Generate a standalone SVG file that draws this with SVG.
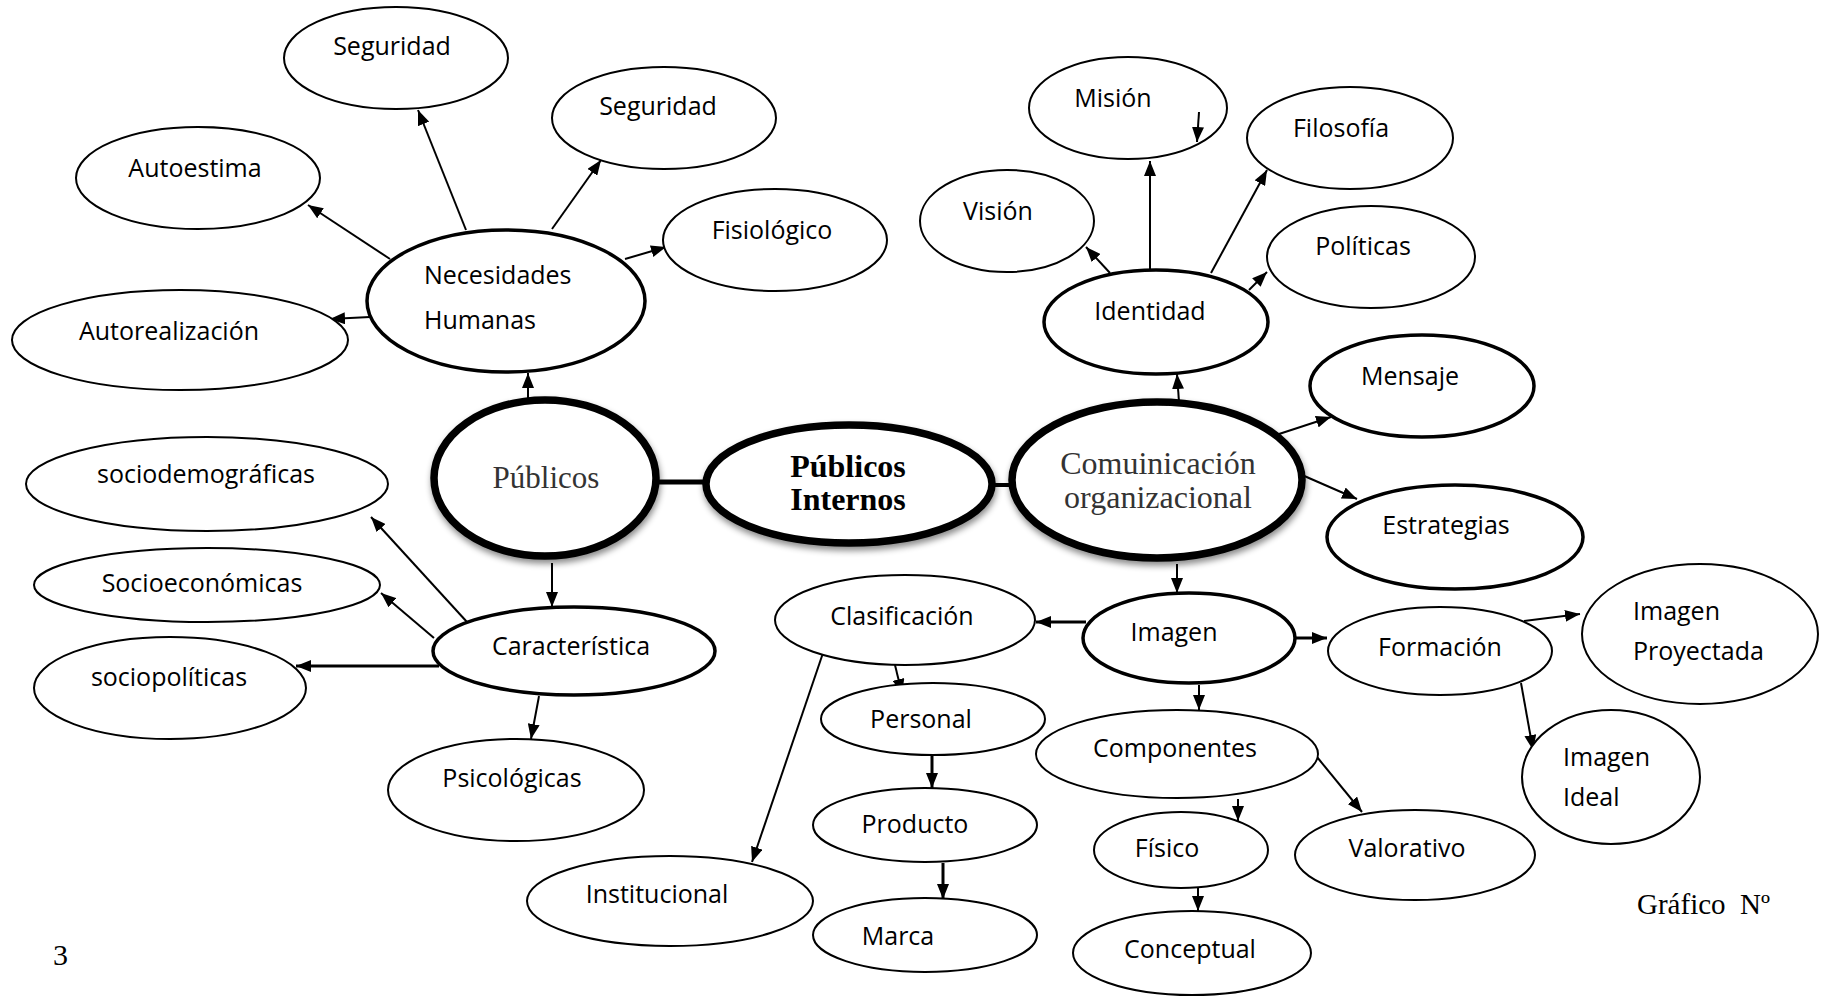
<svg xmlns="http://www.w3.org/2000/svg" width="1828" height="997" viewBox="0 0 1828 997">
<style>
.e{fill:#fff;stroke:#000;stroke-width:2}
.m{fill:#fff;stroke:#000;stroke-width:3.5}
.k{fill:#fff;stroke:#000;stroke-width:7.5;filter:url(#sh)}
.t{font-family:"Open Sans","Liberation Sans",sans-serif;font-size:25px;fill:#000}
.c{text-anchor:middle}
.s{font-family:"Liberation Serif","Times New Roman",serif;fill:#333}
.b{font-family:"Liberation Serif","Times New Roman",serif;font-weight:bold;font-size:32px;fill:#000;text-anchor:middle}
.l{stroke:#000;stroke-width:2;fill:none;marker-end:url(#ar)}
.w{stroke-width:3}
</style>
<defs>
<marker id="ar" markerUnits="userSpaceOnUse" markerWidth="15" markerHeight="12" refX="15" refY="6" orient="auto">
<path d="M0,0 L15,6 L0,12 z" fill="#000"/>
</marker>
<filter id="sh" x="-20%" y="-20%" width="140%" height="150%">
<feDropShadow dx="1" dy="4" stdDeviation="3" flood-color="#000" flood-opacity="0.45"/>
</filter>
</defs>
<rect width="1828" height="997" fill="#fff"/>
<g id="connectors">
<line class="l" x1="466" y1="230" x2="418" y2="110"/>
<line class="l" x1="552" y1="229" x2="601" y2="160"/>
<line class="l" x1="390" y1="259" x2="308" y2="205"/>
<line class="l" x1="625" y1="259" x2="666" y2="247"/>
<line class="l" x1="370" y1="317" x2="330" y2="319"/>
<line class="l" x1="528" y1="408" x2="528" y2="373"/>
<line x1="655" y1="482" x2="709" y2="482" stroke="#000" stroke-width="5"/>
<line x1="988" y1="485" x2="1015" y2="485" stroke="#000" stroke-width="4"/>
<line class="l" x1="552" y1="563" x2="552" y2="607"/>
<line class="l" x1="467" y1="622" x2="371" y2="517"/>
<line class="l" x1="434" y1="638" x2="381" y2="593"/>
<line class="l w" x1="439" y1="666" x2="296" y2="666"/>
<line class="l" x1="539" y1="696" x2="531" y2="739"/>
<line class="l" x1="1179" y1="402" x2="1177" y2="374"/>
<line class="l" x1="1110" y1="273" x2="1086" y2="247"/>
<line class="l" x1="1150" y1="271" x2="1150" y2="161"/>
<line class="l" x1="1211" y1="273" x2="1267" y2="170"/>
<line class="l" x1="1249" y1="290" x2="1267" y2="272"/>
<line class="l" x1="1279" y1="434" x2="1331" y2="417"/>
<line class="l" x1="1302" y1="475" x2="1357" y2="499"/>
<line class="l" x1="1177" y1="564" x2="1177" y2="593"/>
<line class="l w" x1="1086" y1="622" x2="1036" y2="622"/>
<line class="l w" x1="1295" y1="638" x2="1327" y2="638"/>
<line class="l" x1="1524" y1="621" x2="1580" y2="614"/>
<line class="l" x1="1521" y1="683" x2="1533" y2="750"/>
<line class="l" x1="1199" y1="685" x2="1199" y2="710"/>
<line class="l" x1="1238" y1="799" x2="1238" y2="821"/>
<line class="l" x1="1317" y1="757" x2="1362" y2="812"/>
<line class="l" x1="1198" y1="887" x2="1198" y2="911"/>
<line class="l" x1="823" y1="653" x2="752" y2="862"/>
<line class="l" x1="895" y1="665" x2="902" y2="694"/>
<line class="l w" x1="932" y1="756" x2="932" y2="788"/>
<line class="l w" x1="943" y1="863" x2="943" y2="899"/>
</g>
<g id="n-seguridad1"><ellipse class="e" cx="396" cy="58" rx="112" ry="51"/><text class="t c" x="392" y="55">Seguridad</text></g>
<g id="n-seguridad2"><ellipse class="e" cx="664" cy="118" rx="112" ry="51"/><text class="t c" x="658" y="115">Seguridad</text></g>
<g id="n-autoestima"><ellipse class="e" cx="198" cy="178" rx="122" ry="51"/><text class="t c" x="195" y="177">Autoestima</text></g>
<g id="n-fisiologico"><ellipse class="e" cx="775" cy="240" rx="112" ry="51"/><text class="t c" x="772" y="239">Fisiológico</text></g>
<g id="n-necesidades"><ellipse class="m" cx="506" cy="301" rx="139" ry="71"/><text class="t" x="424" y="284">Necesidades</text><text class="t" x="424" y="329">Humanas</text></g>
<g id="n-autorealizacion"><ellipse class="e" cx="180" cy="340" rx="168" ry="50"/><text class="t c" x="169" y="340">Autorealización</text></g>
<g id="n-publicos"><ellipse class="k" cx="545" cy="478" rx="111" ry="78"/><text class="s c" x="546" y="488" font-size="31">Públicos</text></g>
<g id="n-internos"><ellipse class="k" cx="849" cy="484" rx="143" ry="59"/><text class="b" x="848" y="477">Públicos</text><text class="b" x="848" y="510">Internos</text></g>
<g id="n-comunicacion"><ellipse class="k" cx="1157" cy="480" rx="145" ry="78"/><text class="s c" x="1158" y="474" font-size="32">Comuinicación</text><text class="s c" x="1158" y="508" font-size="32">organizacional</text></g>
<g id="n-sociodemograficas"><ellipse class="e" cx="207" cy="484" rx="181" ry="47"/><text class="t c" x="206" y="483">sociodemográficas</text></g>
<g id="n-socioeconomicas"><ellipse class="e" cx="207" cy="585" rx="173" ry="37"/><text class="t c" x="202" y="592">Socioeconómicas</text></g>
<g id="n-sociopoliticas"><ellipse class="e" cx="170" cy="688" rx="136" ry="51"/><text class="t c" x="169" y="686">sociopolíticas</text></g>
<g id="n-caracteristica"><ellipse class="m" cx="574" cy="651" rx="141" ry="44"/><text class="t c" x="571" y="655">Característica</text></g>
<g id="n-psicologicas"><ellipse class="e" cx="516" cy="790" rx="128" ry="51"/><text class="t c" x="512" y="787">Psicológicas</text></g>
<g id="n-clasificacion"><ellipse class="e" cx="905" cy="620" rx="130" ry="45"/><text class="t c" x="902" y="625">Clasificación</text></g>
<g id="n-institucional"><ellipse class="e" cx="670" cy="901" rx="143" ry="45"/><text class="t c" x="657" y="903">Institucional</text></g>
<g id="n-personal"><ellipse class="e" cx="933" cy="719" rx="112" ry="36"/><text class="t c" x="921" y="728">Personal</text></g>
<g id="n-producto"><ellipse class="e" cx="925" cy="825" rx="112" ry="37"/><text class="t c" x="915" y="833">Producto</text></g>
<g id="n-marca"><ellipse class="e" cx="925" cy="935" rx="112" ry="37"/><text class="t c" x="898" y="945">Marca</text></g>
<g id="n-mision"><ellipse class="e" cx="1128" cy="108" rx="99" ry="51"/><text class="t c" x="1113" y="107">Misión</text><line class="l" x1="1199" y1="112" x2="1197" y2="142"/></g>
<g id="n-filosofia"><ellipse class="e" cx="1350" cy="138" rx="103" ry="51"/><text class="t c" x="1341" y="137">Filosofía</text></g>
<g id="n-vision"><ellipse class="e" cx="1007" cy="221" rx="87" ry="51"/><text class="t c" x="998" y="220">Visión</text></g>
<g id="n-politicas"><ellipse class="e" cx="1371" cy="257" rx="104" ry="51"/><text class="t c" x="1363" y="255">Políticas</text></g>
<g id="n-identidad"><ellipse class="m" cx="1156" cy="322" rx="112" ry="52"/><text class="t c" x="1150" y="320">Identidad</text></g>
<g id="n-mensaje"><ellipse class="m" cx="1422" cy="386" rx="112" ry="51"/><text class="t c" x="1410" y="385">Mensaje</text></g>
<g id="n-estrategias"><ellipse class="m" cx="1455" cy="537" rx="128" ry="52"/><text class="t c" x="1446" y="534">Estrategias</text></g>
<g id="n-imagen"><ellipse class="m" cx="1189" cy="638" rx="106" ry="45"/><text class="t c" x="1174" y="641">Imagen</text></g>
<g id="n-formacion"><ellipse class="e" cx="1440" cy="651" rx="112" ry="44"/><text class="t c" x="1440" y="656">Formación</text></g>
<g id="n-proyectada"><ellipse class="e" cx="1700" cy="634" rx="118" ry="70"/><text class="t" x="1633" y="620">Imagen</text><text class="t" x="1633" y="660">Proyectada</text></g>
<g id="n-ideal"><ellipse class="e" cx="1611" cy="777" rx="89" ry="67"/><text class="t" x="1563" y="766">Imagen</text><text class="t" x="1563" y="806">Ideal</text></g>
<g id="n-componentes"><ellipse class="e" cx="1177" cy="754" rx="141" ry="44"/><text class="t c" x="1175" y="757">Componentes</text></g>
<g id="n-fisico"><ellipse class="e" cx="1181" cy="850" rx="87" ry="38"/><text class="t c" x="1167" y="857">Físico</text></g>
<g id="n-valorativo"><ellipse class="e" cx="1415" cy="855" rx="120" ry="45"/><text class="t c" x="1407" y="857">Valorativo</text></g>
<g id="n-conceptual"><ellipse class="e" cx="1192" cy="953" rx="119" ry="42"/><text class="t c" x="1190" y="958">Conceptual</text></g>
<g id="captions">
<text x="53" y="965" font-family="Liberation Serif,serif" font-size="30" fill="#000">3</text>
<text x="1637" y="914" font-family="Liberation Serif,serif" font-size="29" fill="#000" style="white-space:pre">Gráfico  Nº</text>
</g>
</svg>
